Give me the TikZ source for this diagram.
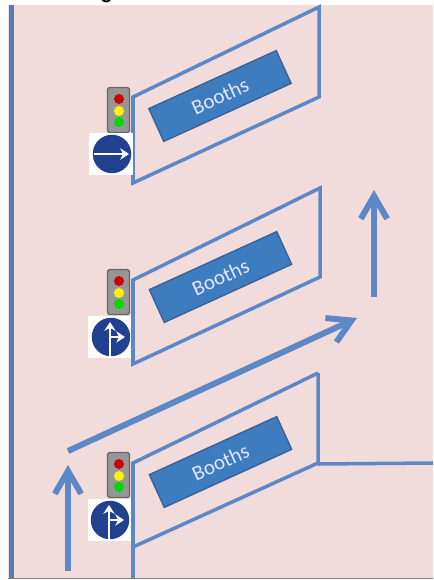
\documentclass[tikz,border=0pt]{standalone}
\usepackage{fontspec}
\setmainfont{Carlito}
\newfontfamily\titlefont{Liberation Sans}
\usetikzlibrary{arrows.meta}
\definecolor{groundpink}{RGB}{242,220,219}
\definecolor{lineblue}{RGB}{92,136,198}
\definecolor{boothblue}{RGB}{62,124,192}
\definecolor{boothedge}{RGB}{58,98,150}
\definecolor{signblue}{RGB}{33,64,143}
\definecolor{boxgray}{RGB}{150,150,150}
\begin{document}
\begin{tikzpicture}[x=0.02cm,y=-0.02cm]

%
% Styles
%
\tikzstyle{lane} = [draw=lineblue,line width=2pt,line join=miter]
\tikzstyle{wall} = [draw=lineblue!90!black,line width=2.8pt]
\tikzstyle{route} = [draw=lineblue,line width=3.4pt,-{Straight Barb[length=13pt,width=15pt,line width=3.4pt]}]
\tikzstyle{booth} = [rectangle,draw=boothedge,fill=boothblue,line width=0.8pt,minimum width=2.8cm,minimum height=0.72cm,inner sep=0pt,text=blue!10!white,font=\fontsize{12}{12}\selectfont,rotate=24.5]
\tikzstyle{housing} = [rectangle,rounded corners=1pt,draw=gray!80!black,fill=boxgray,thick,minimum width=0.44cm,minimum height=0.9cm,inner sep=0pt]
\tikzstyle{lamp} = [circle,draw=black!40,fill=#1,line width=0.4pt,minimum size=0.22cm,inner sep=0pt]
\tikzstyle{plate} = [rectangle,fill=white,minimum width=0.88cm,minimum height=0.83cm,inner sep=0pt]
\tikzstyle{disc} = [circle,fill=signblue,minimum size=0.77cm,inner sep=0pt]
\tikzstyle{pointer} = [draw=white,line width=1.5pt,-{Stealth[length=5pt,width=6.5pt]}]

\useasboundingbox (0,0) rectangle (433,580);
\fill[groundpink] (8,5) rectangle (433,578);
\draw[gray,line width=0.8pt] (8,578.5) -- (433,578.5);
\node[font=\titlefont\bfseries\fontsize{11.5}{12}\selectfont,anchor=base,inner sep=0pt] (heading) at (106.5,-1) {g};

\draw[wall] (11.5,5) -- (11.5,578);

% booth outlines
\draw[lane] (319,7) -- (133,97) -- (133,183) -- (319,97) -- cycle;
\draw[lane] (320,188) -- (133,280) -- (133,364) -- (320,277) -- cycle;
\draw[lane] (318,373) -- (133,463) -- (133,578);
\draw[lane] (133,547) -- (318,463) -- (318,373);
\coordinate (kerbstart) at (318,464);
\coordinate (kerbend) at (433,463);
\draw[lane] (kerbstart) -- (kerbend);

\node[booth] (booth1) at (220,96) {Booths};
\node[booth] (booth2) at (220.5,277) {Booths};
\node[booth] (booth3) at (220.5,462) {Booths};

% routes
\coordinate (instart) at (68,571);
\coordinate (inend) at (68,465);
\coordinate (diagstart) at (68,451);
\coordinate (diagend) at (357,318);
\coordinate (outstart) at (374,297);
\coordinate (outend) at (374,190);
\draw[route] (instart) -- (inend);
\draw[route] (diagstart) -- (diagend);
\draw[route] (outstart) -- (outend);

% signals
\node[housing] (signal1) at (118.5,110) {};
\node[lamp=red!80!black] (red1) at (119,99) {};
\node[lamp=yellow] (yellow1) at (119,111) {};
\node[lamp=green!85!black] (green1) at (119,122) {};

\node[housing] (signal2) at (118.5,292) {};
\node[lamp=red!80!black] (red2) at (119,281) {};
\node[lamp=yellow] (yellow2) at (119,293) {};
\node[lamp=green!85!black] (green2) at (119,304) {};

\node[housing] (signal3) at (118.5,475) {};
\node[lamp=red!80!black] (red3) at (119,464) {};
\node[lamp=yellow] (yellow3) at (119,476) {};
\node[lamp=green!85!black] (green3) at (119,487) {};

% signs
\node[plate] (plate1) at (111,154) {};
\node[disc] (sign1) at (112,154) {};
\draw[pointer] (94,154) -- (129,154);

\node[plate] (plate2) at (109.5,337) {};
\node[disc] (sign2) at (111,337) {};
\draw[pointer] (110,357) -- (110,322);
\draw[pointer] (110,337) -- (125,337);

\node[plate] (plate3) at (109.5,520) {};
\node[disc] (sign3) at (110,520) {};
\draw[pointer] (109,541) -- (109,505);
\draw[pointer] (109,520) -- (124,520);

\end{tikzpicture}
\end{document}
